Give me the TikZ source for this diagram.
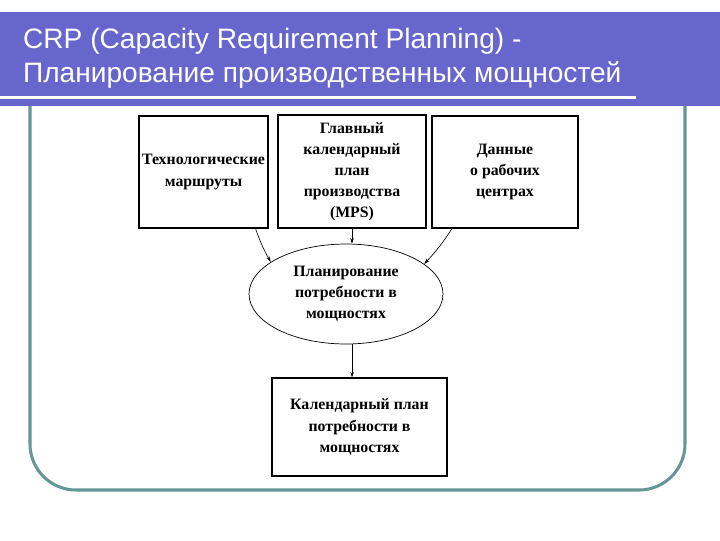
\documentclass[tikz,border=0pt]{standalone}
\usepackage{fontspec}
\setmainfont{Liberation Serif}
\newfontfamily\titlefont{Liberation Sans}
\usetikzlibrary{arrows.meta, shapes.geometric, shadows, calc}
\definecolor{barcolor}{RGB}{102,102,204}
\definecolor{framecolor}{RGB}{100,150,150}
\definecolor{shadecolor}{RGB}{120,120,120}
\newcommand{\boxfont}{\bfseries\fontsize{22.5}{30}\selectfont}
\tikzset{
  box/.style   = {draw=black, line width=1.5pt, fill=white, align=center,
                  font=\boxfont, inner sep=2pt,
                  drop shadow={shadow xshift=2pt, shadow yshift=-2pt,
                               fill=shadecolor, opacity=1}},
  oval/.style  = {ellipse, draw=black, line width=1pt, fill=white,
                  align=center, font=\boxfont, inner sep=0pt},
  arrow/.style = {-{Stealth[length=8pt, width=5pt]}, line width=0.9pt},
  ttl/.style   = {anchor=base west, inner sep=0pt, text=white,
                  font=\titlefont\fontsize{40}{48}\selectfont},
}
\begin{document}
\begin{tikzpicture}[x=0.05cm, y=-0.05cm]
  \useasboundingbox (0,0) rectangle (720,540);
  % frame and title bar
  \draw[framecolor, line width=4.3pt, rounded corners=2.3cm]
    (30,60) rectangle (685,490);
  \fill[barcolor] (0,12) rectangle (720,106);
  \fill[white] (0,96) rectangle (636,98.5);
  \node[ttl] (title1) at (23,48) {CRP (Capacity Requirement Planning) -};
  \node[ttl] (title2) at (23,82) {Планирование производственных мощностей};

  % input boxes
  \node[box, minimum width=6.45cm, minimum height=5.6cm] (routes) at (203.5,172)
    {Технологические\\маршруты};
  \node[box, minimum width=7.4cm, minimum height=5.65cm] (mps) at (352,171.5)
    {Главный\\календарный\\план\\производства\\(MPS)};
  \node[box, minimum width=7.3cm, minimum height=5.6cm] (centers) at (505,172)
    {Данные\\о рабочих\\центрах};

  % planning and result
  \node[oval, minimum width=9.7cm, minimum height=5cm] (crp) at (346,294)
    {Планирование\\потребности в\\мощностях};
  \node[box, minimum width=8.75cm, minimum height=4.9cm] (result) at (359.5,427)
    {Календарный план\\потребности в\\мощностях};

  \draw[arrow] (mps.south) -- (crp.north -| mps.south);
  \draw[arrow] ($(routes.south west)!0.9!(routes.south east)$) to[bend right=5] (crp.157);
  \draw[arrow] ($(centers.south west)!0.14!(centers.south east)$) to[bend left=5] (crp.21);
  \draw[arrow] (crp.south -| mps.south) -- (result.north -| mps.south);
\end{tikzpicture}
\end{document}
